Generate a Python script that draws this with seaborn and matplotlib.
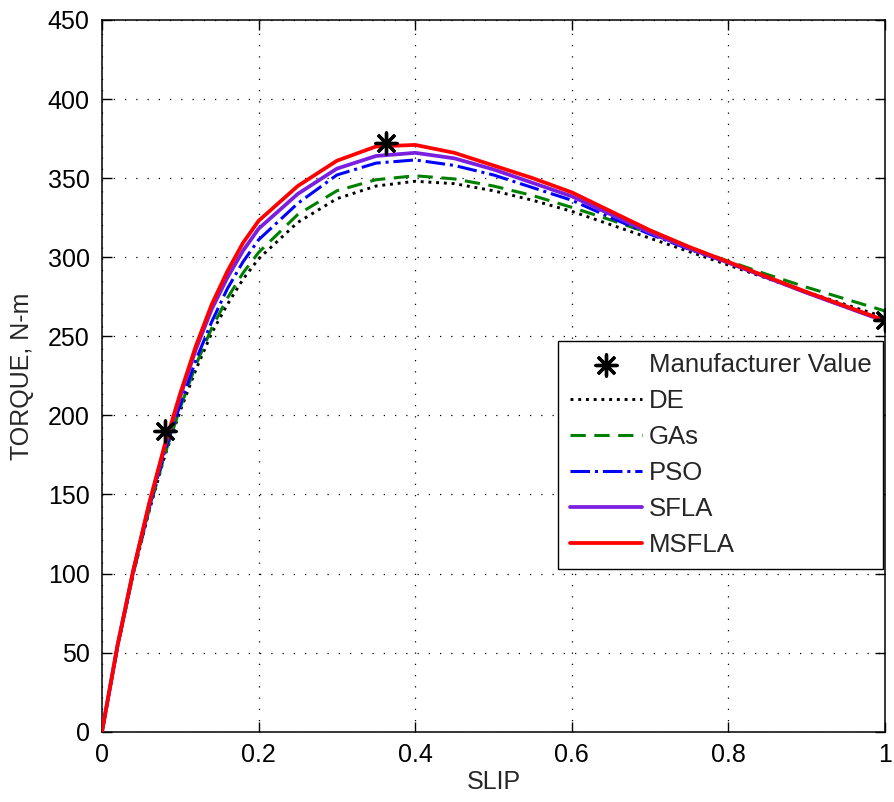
import matplotlib
matplotlib.use("Agg")
import matplotlib.pyplot as plt
import numpy as np
import pandas as pd
import seaborn as sns

# Slip grid shared by all torque-slip curves
slip = [0.00, 0.02, 0.04, 0.06, 0.08, 0.10, 0.12, 0.14, 0.16, 0.18, 0.20,
        0.25, 0.30, 0.35, 0.40, 0.45, 0.50, 0.55, 0.60, 0.65, 0.70, 0.75,
        0.80, 0.85, 0.90, 0.95, 1.00]

# Torque (N-m) estimated by each method
torque_de = [0, 54, 100, 139, 174, 203, 229, 252, 270, 286, 299,
             322, 337, 345, 348, 346.5, 342, 336, 329, 320.5, 312, 303.5,
             295, 286.5, 278, 270, 262]
torque_gas = [0, 54, 100, 140, 175, 205, 232, 255, 274, 290, 303,
              327, 342, 349, 351.5, 349.5, 345, 339, 331.5, 323.5, 315, 306,
              297.5, 289, 281, 273.5, 266]
torque_pso = [0, 54, 101, 141, 177, 207, 235, 259, 280, 297, 311,
              334, 352, 359.5, 361.5, 358, 352, 344, 336, 325, 314.5, 305,
              296.5, 287, 277.5, 268.5, 259.5]
torque_sfla = [0, 55, 102, 143, 180, 212, 242, 267, 287, 304, 318,
               340, 356, 364, 366, 362.5, 355.5, 347, 338.5, 327, 315.5, 305.5,
               296.5, 287, 277.5, 268.5, 259.5]
torque_msfla = [0, 55, 102, 144, 181, 214, 244, 270, 291, 309, 323,
                345, 361, 370, 371, 366, 358, 350, 341, 329, 317, 306.5,
                297, 287.5, 278, 269, 260]

# Manufacturer data points
manuf_slip = [0.08, 0.363, 1.00]
manuf_torque = [190, 372, 260]

x_ticks = [0, 0.2, 0.4, 0.6, 0.8, 1]
x_tick_labels = ["0", "0.2", "0.4", "0.6", "0.8", "1"]
y_ticks = [0, 50, 100, 150, 200, 250, 300, 350, 400, 450]

sns.set_style("ticks")
plt.rcParams["font.family"] = ["Liberation Sans", "DejaVu Sans"]
plt.rcParams["font.size"] = 18

fig = plt.figure(figsize=(8.94, 8.02), dpi=100)
ax = fig.add_axes([0.1141, 0.0877, 0.8758, 0.8874])

series = [
    ("DE", torque_de, "black", ":", 2.1),
    ("GAs", torque_gas, "#008000", (0, (5, 2.8)), 2.2),
    ("PSO", torque_pso, "#0000ff", "-.", 2.2),
    ("SFLA", torque_sfla, "#7a1fe0", "-", 2.7),
    ("MSFLA", torque_msfla, "#ff0000", "-", 2.7),
]

manuf_df = pd.DataFrame({"slip": manuf_slip, "torque": manuf_torque})
sns.scatterplot(data=manuf_df, x="slip", y="torque", ax=ax,
                marker=(8, 2, 0), s=230, color="black", edgecolor="black",
                linewidth=2.4, zorder=6, label="Manufacturer Value")

for name, vals, color, ls, lw in series:
    df = pd.DataFrame({"slip": slip, "torque": vals})
    sns.lineplot(data=df, x="slip", y="torque", ax=ax, color=color,
                 linestyle=ls, linewidth=lw, label=name, zorder=4,
                 estimator=None, sort=False)

ax.set_xlim(0, 1)
ax.set_ylim(0, 450)
ax.set_xticks(x_ticks)
ax.set_xticklabels(x_tick_labels)
ax.set_yticks(y_ticks)

ax.grid(True, color="black", linestyle=(0, (1, 8)), linewidth=0.9)
ax.set_axisbelow(True)

for sp in ax.spines.values():
    sp.set_visible(True)
    sp.set_color("black")
    sp.set_linewidth(1.1)

ax.tick_params(direction="in", length=7, width=1.0, top=True, right=True,
               labelsize=18, colors="black")
ax.tick_params(axis="y", pad=9)
ax.tick_params(axis="x", pad=8)

ax.set_xlabel("SLIP", fontsize=18)
ax.set_ylabel("TORQUE, N-m", fontsize=18)
ax.xaxis.set_label_coords(0.5, -0.054)
ax.yaxis.set_label_coords(-0.087, 0.5)

handles, labels = ax.get_legend_handles_labels()
order = ["Manufacturer Value", "DE", "GAs", "PSO", "SFLA", "MSFLA"]
hmap = dict(zip(labels, handles))
leg = ax.legend([hmap[k] for k in order], order, loc="center right",
                bbox_to_anchor=(0.998, 0.389), fontsize=18.5,
                frameon=True, fancybox=False, framealpha=1,
                edgecolor="black", handlelength=2.8, handletextpad=0.28,
                labelspacing=0.47, borderpad=0.45, borderaxespad=0)
leg.get_frame().set_linewidth(1.0)

fig.savefig("out.png", dpi=100)
